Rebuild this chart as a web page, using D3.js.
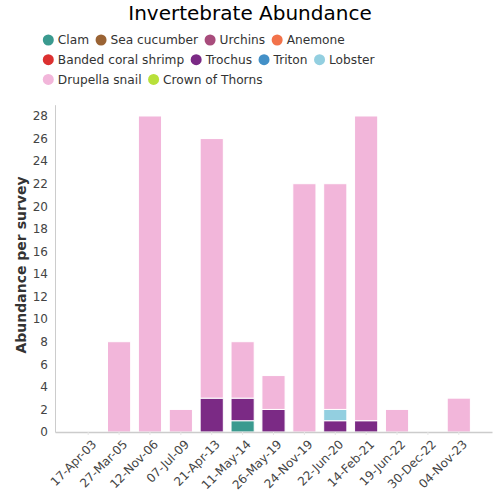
<!DOCTYPE html>
<html><head><meta charset="utf-8">
<script src="https://cdn.jsdelivr.net/npm/d3@7"></script>
<style>body{margin:0;background:#fff;}text{font-family:"DejaVu Sans",sans-serif;}</style>
</head><body><svg id="c" width="500" height="500"></svg>
<script>
const categories = ["17-Apr-03","27-Mar-05","12-Nov-06","07-Jul-09","21-Apr-13","11-May-14","26-May-19","24-Nov-19","22-Jun-20","14-Feb-21","19-Jun-22","30-Dec-22","04-Nov-23"];
const seriesNames = ["Clam","Sea cucumber","Urchins","Anemone","Banded coral shrimp","Trochus","Triton","Lobster","Drupella snail","Crown of Thorns"];
const seriesColors = ["#3a9a8f","#9a6334","#a84c7c","#f2724a","#dc3030","#7b2a85","#4390c7","#93cfe0","#f2b6da","#b8e03a"];
const clam        = [0,0,0,0,0,1,0,0,0,0,0,0,0];
const seaCucumber = [0,0,0,0,0,0,0,0,0,0,0,0,0];
const urchins     = [0,0,0,0,0,0,0,0,0,0,0,0,0];
const anemone     = [0,0,0,0,0,0,0,0,0,0,0,0,0];
const shrimp      = [0,0,0,0,0,0,0,0,0,0,0,0,0];
const trochus     = [0,0,0,0,3,2,2,0,1,1,0,0,0];
const triton      = [0,0,0,0,0,0,0,0,0,0,0,0,0];
const lobster     = [0,0,0,0,0,0,0,0,1,0,0,0,0];
const drupella    = [0,8,28,2,23,5,3,22,20,27,2,0,3];
const crown       = [0,0,0,0,0,0,0,0,0,0,0,0,0];
const yTicks = [0,2,4,6,8,10,12,14,16,18,20,22,24,26,28];

const allSeries = [clam,seaCucumber,urchins,anemone,shrimp,trochus,triton,lobster,drupella,crown];
const table = categories.map((c,i)=>{const o={cat:c}; seriesNames.forEach((s,j)=>o[s]=allSeries[j][i]); return o;});
const stacked = d3.stack().keys(seriesNames)(table);

const svg = d3.select("#c");
const x = d3.scaleBand().domain(categories).range([55,492]).paddingInner(0.25).paddingOuter(0.7);
const y = d3.scaleLinear().domain([0,29]).range([432,104.7]);

svg.append("text").attr("x",250).attr("y",20).attr("text-anchor","middle")
  .attr("font-size",20).attr("fill","#000").text("Invertebrate Abundance");

// legend
const rows = [[0,1,2,3],[4,5,6,7],[8,9]];
rows.forEach((r,ri)=>{
  let cx = 48.3;
  const cy = 40 + ri*19.7;
  r.forEach(si=>{
    const g = svg.append("g");
    g.append("circle").attr("cx",cx).attr("cy",cy).attr("r",5.5).attr("fill",seriesColors[si]);
    const t = g.append("text").attr("x",cx+9.5).attr("y",cy+4.3).attr("font-size",12.2).attr("fill","#333").text(seriesNames[si]);
    cx += 9.5 + t.node().getComputedTextLength() + 12;
  });
});

// y axis
const ya = svg.append("g").attr("transform","translate(55,0)")
  .call(d3.axisLeft(y).tickValues(yTicks).tickSize(0).tickPadding(7));
ya.select(".domain").attr("stroke","#ccc");
ya.selectAll("text").attr("font-size",12).attr("fill","#444").attr("font-family","DejaVu Sans");

// bars
svg.append("g").selectAll("g").data(stacked).join("g").attr("fill",(d,i)=>seriesColors[i])
  .selectAll("rect").data(d=>d.filter(v=>v[1]-v[0]>0)).join("rect")
  .attr("x",d=>x(d.data.cat)).attr("width",x.bandwidth())
  .attr("y",d=>y(d[1])).attr("height",d=>y(d[0])-y(d[1]))
  .attr("stroke","#fff").attr("stroke-width",1);

// x axis
const xa = svg.append("g").attr("transform","translate(0,432)")
  .call(d3.axisBottom(x).tickSize(3).tickSizeOuter(0));
xa.select(".domain").attr("stroke","#ccc").attr("stroke-width",1.5);
xa.selectAll(".tick line").attr("stroke","#e6e6e6");
xa.selectAll("text").attr("font-size",12).attr("fill","#444").attr("font-family","DejaVu Sans")
  .attr("text-anchor","end").attr("x",0).attr("y",0).attr("dy",0)
  .attr("transform","translate(9,13) rotate(-45)");

svg.append("text").attr("transform","translate(26,265) rotate(-90)").attr("text-anchor","middle")
  .attr("font-size",14).attr("font-weight","bold").attr("fill","#333").text("Abundance per survey");
</script></body></html>
